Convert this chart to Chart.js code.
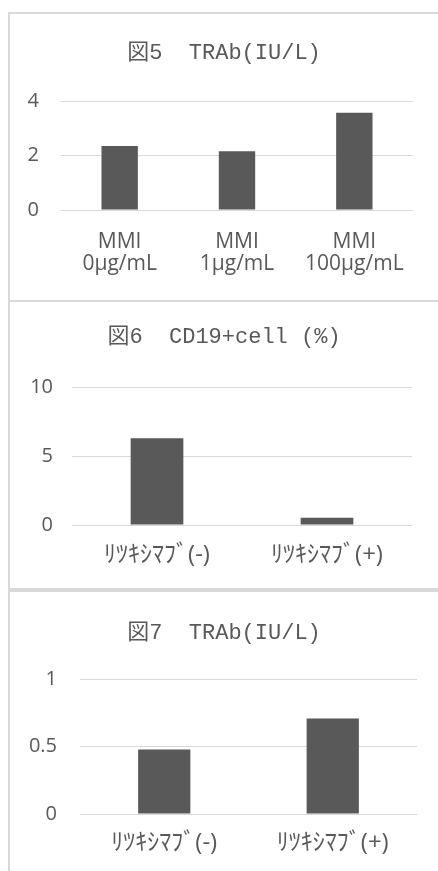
<!DOCTYPE html>
<html>
<head>
<meta charset="utf-8">
<script src="https://cdn.jsdelivr.net/npm/chart.js"></script>
<style>
    body { margin: 0; background: #fff; width: 438px; height: 871px; overflow: hidden; position: relative; }
    .painel { position: absolute; left: 8px; width: 430px; border-left: 2px solid #d9d9d9; border-top: 2px solid #d9d9d9; }
    .painel canvas { display: block; }
</style>
</head>
<body>
<div class="painel" style="top:12px;height:286px;"><canvas id="grafico5" width="428" height="286"></canvas></div>
<div class="painel" style="top:300px;height:286px;"><canvas id="grafico6" width="428" height="286"></canvas></div>
<div class="painel" style="top:588px;height:283px;border-top-width:4px;"><canvas id="grafico7" width="428" height="279"></canvas></div>
<script>
// 図5
const titulo5 = '図5  TRAb(IU/L)';
const categorias5 = [['MMI', '0μg/mL'], ['MMI', '1μg/mL'], ['MMI', '100μg/mL']];
const valores5 = [2.36, 2.16, 3.58];
const ticks5 = [0, 2, 4];

// 図6
const titulo6 = '図6  CD19+cell (%)';
const categorias6 = ['ﾘﾂｷｼﾏﾌﾞ(-)', 'ﾘﾂｷｼﾏﾌﾞ(+)'];
const valores6 = [6.3, 0.53];
const ticks6 = [0, 5, 10];

// 図7
const titulo7 = '図7  TRAb(IU/L)';
const categorias7 = ['ﾘﾂｷｼﾏﾌﾞ(-)', 'ﾘﾂｷｼﾏﾌﾞ(+)'];
const valores7 = [0.48, 0.71];
const ticks7 = [0, 0.5, 1];

const cinza = '#595959';
const fonteTexto = "'Open Sans', 'Noto Sans CJK JP', sans-serif";

function criarGrafico(id, titulo, categorias, valores, ticks, g) {
    const ctx = document.getElementById(id);
    return new Chart(ctx, {
        type: 'bar',
        data: {
            labels: categorias,
            datasets: [{
                data: valores,
                backgroundColor: cinza,
                borderWidth: 0,
                categoryPercentage: 1,
                barPercentage: 0.31
            }]
        },
        options: {
            responsive: false,
            animation: false,
            layout: { padding: 0 },
            plugins: {
                legend: { display: false },
                tooltip: { enabled: false },
                title: {
                    display: true,
                    text: titulo,
                    color: cinza,
                    font: { family: "'Liberation Mono', 'Noto Sans CJK JP', monospace", size: 22, weight: 'normal', lineHeight: 1.2 },
                    padding: { top: g.tituloTopo, bottom: g.tituloBase }
                }
            },
            scales: {
                y: {
                    min: ticks[0],
                    max: ticks[ticks.length - 1],
                    afterBuildTicks: function (s) { s.ticks = ticks.map(v => ({ value: v })); },
                    afterFit: function (s) { s.width = g.eixoY; },
                    border: { display: false },
                    grid: { color: '#d9d9d9', lineWidth: 1, drawTicks: false },
                    ticks: { color: cinza, padding: g.padY, font: { family: fonteTexto, size: 20 }, callback: v => String(v) }
                },
                // eixo vazio à direita, só para reservar a margem
                margem: {
                    position: 'right',
                    afterFit: function (s) { s.width = g.direita; },
                    border: { display: false },
                    grid: { display: false, drawTicks: false },
                    ticks: { display: false }
                },
                x: {
                    afterFit: function (s) { s.height = g.eixoX; },
                    border: { display: false },
                    grid: { display: false, drawTicks: false },
                    ticks: { color: cinza, padding: g.padX, maxRotation: 0, autoSkip: false, font: { family: fonteTexto, size: g.fonteX, lineHeight: 1.05 } }
                }
            }
        }
    });
}

document.addEventListener('DOMContentLoaded', function () {
    criarGrafico('grafico5', titulo5, categorias5, valores5, ticks5,
        { direita: 25, tituloTopo: 26, tituloBase: 35, eixoY: 51, eixoX: 90, padY: 22, padX: 21, fonteX: 21 });
    criarGrafico('grafico6', titulo6, categorias6, valores6, ticks6,
        { direita: 26, tituloTopo: 22, tituloBase: 37, eixoY: 62, eixoX: 63, padY: 19, padX: 18, fonteX: 24 });
    criarGrafico('grafico7', titulo7, categorias7, valores7, ticks7,
        { direita: 21, tituloTopo: 28, tituloBase: 33, eixoY: 70, eixoX: 57, padY: 23, padX: 17, fonteX: 24 });
});
</script>
</body>
</html>
